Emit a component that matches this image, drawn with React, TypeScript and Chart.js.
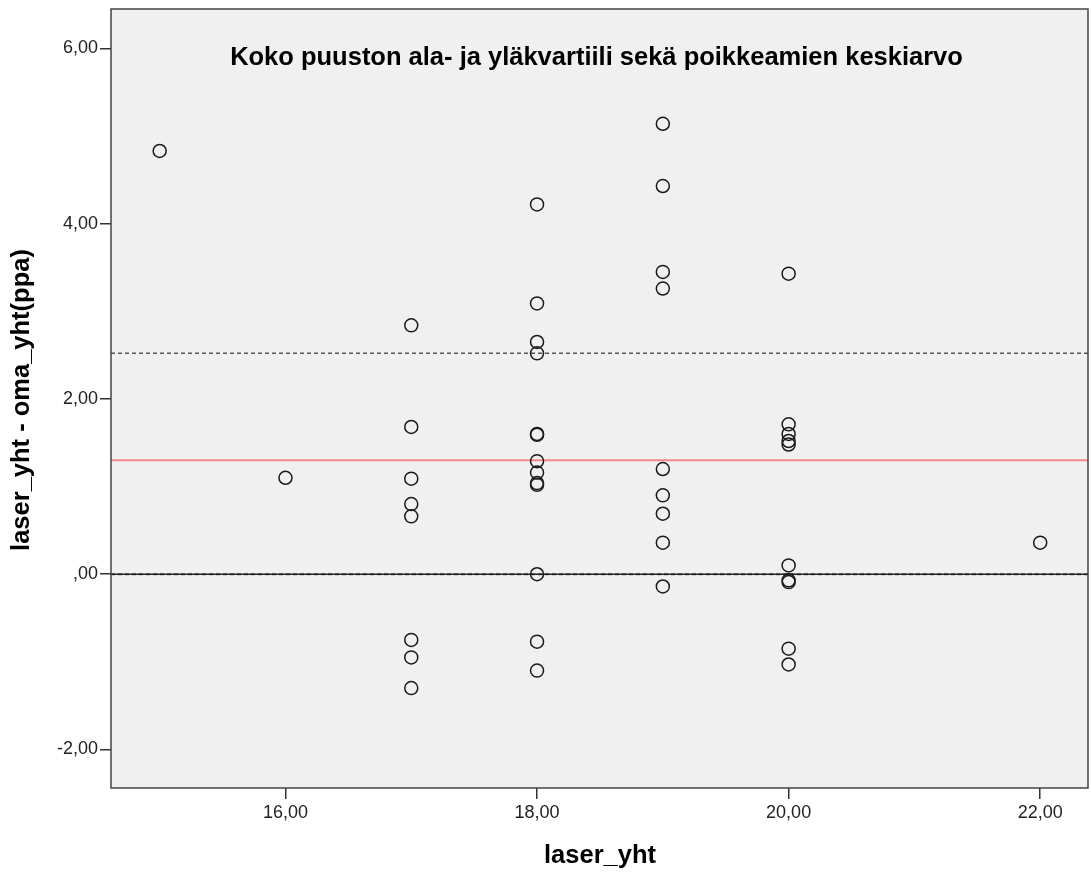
import React, { useEffect, useRef } from 'react';
import { Chart, registerables } from 'chart.js';

Chart.register(...registerables);

// ---- data ----
const laserYht: number[] = [
  15,
  16,
  17, 17, 17, 17, 17, 17, 17, 17,
  18, 18, 18, 18, 18, 18, 18, 18, 18, 18, 18, 18, 18,
  19, 19, 19, 19, 19, 19, 19, 19, 19,
  20, 20, 20, 20, 20, 20, 20, 20, 20, 20,
  22,
];
const deviation: number[] = [
  4.83,
  1.10,
  2.84, 1.68, 1.09, 0.80, 0.66, -0.75, -0.95, -1.30,
  4.22, 3.09, 2.65, 2.52, 1.60, 1.59, 1.29, 1.16, 1.04, 1.02, 0.00, -0.77, -1.10,
  5.14, 4.43, 3.45, 3.26, 1.20, 0.90, 0.69, 0.36, -0.14,
  3.43, 1.71, 1.60, 1.52, 1.48, 0.10, -0.07, -0.09, -0.85, -1.03,
  0.36,
];
const upperQuartile = 2.52;
const lowerQuartile = 0.0;
const meanDeviation = 1.30;
const zeroRef = 0;

const xTicks = [16, 18, 20, 22];
const yTicks = [-2, 0, 2, 4, 6];
const X_MIN = 14.613;
const X_MAX = 22.38;
const Y_MIN = -2.44;
const Y_MAX = 6.45;

const TITLE = 'Koko puuston ala- ja yläkvartiili sekä poikkeamien keskiarvo';
const X_TITLE = 'laser_yht';
const Y_TITLE = 'laser_yht - oma_yht(ppa)';

const FONT = '"Liberation Sans", Arial, sans-serif';

const fmt = (v: number) => (v === 0 ? ',00' : v.toFixed(2).replace('.', ','));

const hLine = (y: number) => [
  { x: X_MIN, y },
  { x: X_MAX, y },
];

export default function App() {
  const ref = useRef<HTMLCanvasElement | null>(null);

  useEffect(() => {
    if (!ref.current) return;

    const framePlugin = {
      id: 'frame',
      beforeDraw(chart: any) {
        const { ctx, chartArea: a } = chart;
        ctx.save();
        ctx.fillStyle = '#ffffff';
        ctx.fillRect(0, 0, chart.width, chart.height);
        ctx.fillStyle = '#f0f0f0';
        ctx.fillRect(a.left, a.top, a.right - a.left, a.bottom - a.top);
        ctx.restore();
      },
      afterDraw(chart: any) {
        const { ctx, chartArea: a } = chart;
        ctx.save();
        ctx.strokeStyle = '#444444';
        ctx.lineWidth = 1.5;
        ctx.strokeRect(a.left, a.top, a.right - a.left, a.bottom - a.top);

        ctx.fillStyle = '#000000';
        ctx.font = `bold 25.5px ${FONT}`;
        ctx.textAlign = 'center';
        ctx.textBaseline = 'middle';
        ctx.fillText(TITLE, 596.5, 58);

        ctx.fillText(X_TITLE, 600, 856);

        ctx.translate(22, 400);
        ctx.rotate(-Math.PI / 2);
        ctx.fillText(Y_TITLE, 0, 0);
        ctx.restore();
      },
    };

    const chart = new Chart(ref.current, {
      type: 'scatter',
      data: {
        datasets: [
          {
            label: 'lowerQ',
            data: hLine(lowerQuartile),
            showLine: true,
            borderColor: '#555555',
            borderWidth: 2,
            borderDash: [4, 3],
            pointRadius: 0,
            order: 5,
          },
          {
            label: 'zero',
            data: hLine(zeroRef),
            showLine: true,
            borderColor: '#222222',
            borderWidth: 1.5,
            pointRadius: 0,
            order: 4,
          },
          {
            label: 'upperQ',
            data: hLine(upperQuartile),
            showLine: true,
            borderColor: '#555555',
            borderWidth: 1.5,
            borderDash: [4, 3],
            pointRadius: 0,
            order: 3,
          },
          {
            label: 'mean',
            data: hLine(meanDeviation),
            showLine: true,
            borderColor: '#f08a8a',
            borderWidth: 2,
            pointRadius: 0,
            order: 2,
          },
          {
            label: 'points',
            data: laserYht.map((x, i) => ({ x, y: deviation[i] })),
            pointRadius: 6.5,
            pointBorderWidth: 1.5,
            pointBackgroundColor: 'rgba(0,0,0,0)',
            pointBorderColor: '#1a1a1a',
            order: 1,
          },
        ],
      },
      options: {
        responsive: false,
        animation: false,
        layout: { autoPadding: false, padding: { left: 0, top: 9, right: 3, bottom: 0 } },
        plugins: {
          legend: { display: false },
          tooltip: { enabled: false },
          title: { display: false },
        },
        scales: {
          x: {
            type: 'linear',
            min: X_MIN,
            max: X_MAX,
            afterBuildTicks: (s: any) => {
              s.ticks = xTicks.map((v) => ({ value: v }));
            },
            afterFit: (s: any) => {
              s.height = 84;
              s.paddingLeft = 0;
              s.paddingRight = 0;
            },
            ticks: {
              autoSkip: false,
              maxRotation: 0,
              padding: 3,
              color: '#222222',
              font: { family: FONT, size: 18 },
              callback: (v: any) => fmt(Number(v)),
            },
            grid: {
              drawOnChartArea: false,
              drawTicks: true,
              tickLength: 11,
              color: '#333333',
              lineWidth: 1.5,
            },
            border: { display: false },
          },
          y: {
            type: 'linear',
            min: Y_MIN,
            max: Y_MAX,
            afterBuildTicks: (s: any) => {
              s.ticks = yTicks.map((v) => ({ value: v }));
            },
            afterFit: (s: any) => {
              s.width = 111;
              s.paddingTop = 0;
              s.paddingBottom = 0;
            },
            ticks: {
              autoSkip: false,
              padding: 2,
              color: '#222222',
              font: { family: FONT, size: 18 },
              callback: (v: any) => fmt(Number(v)),
            },
            grid: {
              drawOnChartArea: false,
              drawTicks: true,
              tickLength: 11,
              color: '#333333',
              lineWidth: 1.5,
            },
            border: { display: false },
          },
        },
      },
      plugins: [framePlugin],
    } as any);

    return () => chart.destroy();
  }, []);

  return (
    <div style={{ position: 'fixed', left: 0, top: 0, width: 1091, height: 872, background: '#fff' }}>
      <canvas ref={ref} width={1091} height={872} style={{ display: 'block' }} />
    </div>
  );
}
